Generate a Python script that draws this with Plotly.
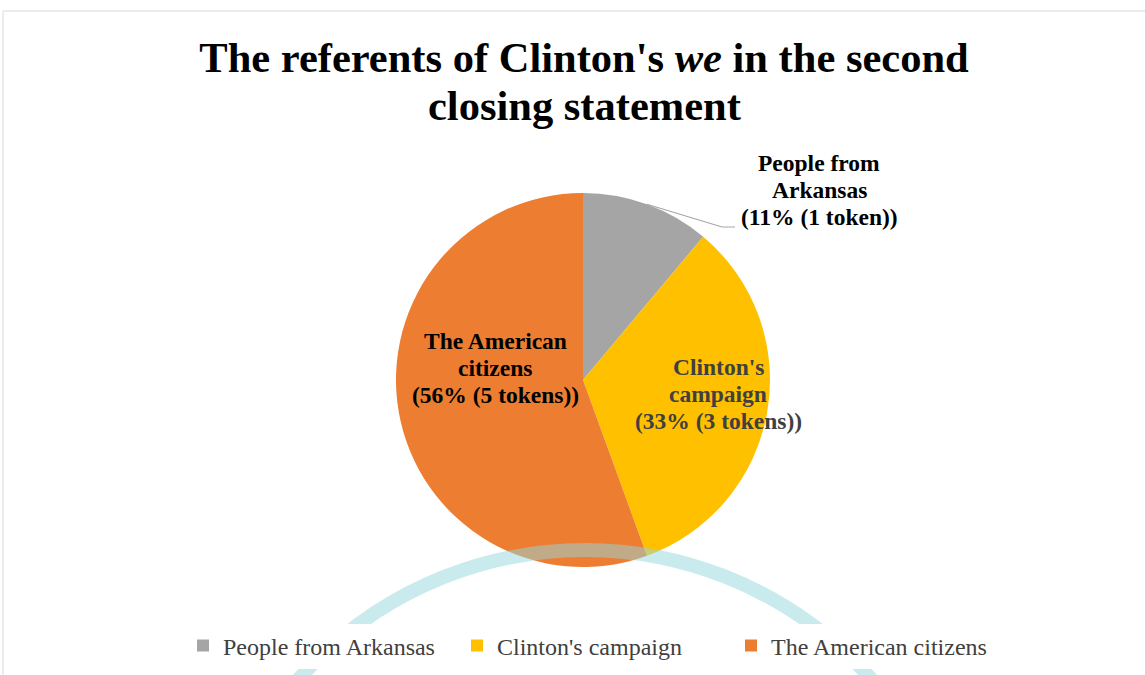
import math
import plotly.graph_objects as go

categories = ["People from Arkansas", "Clinton's campaign", "The American citizens"]
tokens = [1, 3, 5]
colors = ["#A5A5A5", "#FFC000", "#ED7D31"]
label_lines = [["People from", "Arkansas"], ["Clinton's", "campaign"], ["The American", "citizens"]]
label_colors = ["#000000", "#404040", "#000000"]
title_lines = ["The referents of Clinton's <i>we</i> in the second", "closing statement"]

W, H = 1145, 675
cx, cy, R = 583, 380, 187
FONT = "Liberation Serif, Times New Roman, serif"

fig = go.Figure(go.Pie(
    labels=categories, values=tokens, sort=False, direction="clockwise", rotation=0,
    marker=dict(colors=colors, line=dict(width=0)), textinfo="none", hoverinfo="label+value+percent",
    domain=dict(x=[(cx - R) / W, (cx + R) / W], y=[1 - (cy + R) / H, 1 - (cy - R) / H]),
    showlegend=True,
))

total = sum(tokens)
def px(x, y):
    return x / W, 1 - y / H

# centre of first label line, in pixels; lines are 27 px apart
label_pos = [(819, 163), (718, 367), (495, 341)]
LINE = 27
annotations = []
cum = 0
for i, (cat, v) in enumerate(zip(categories, tokens)):
    pct = round(100 * v / total)
    unit = "token" if v == 1 else "tokens"
    lines = label_lines[i] + [f"({pct}% ({v} {unit}))"]
    for k, ln in enumerate(lines):
        x, y = px(label_pos[i][0], label_pos[i][1] + k * LINE)
        annotations.append(dict(x=x, y=y, xref="paper", yref="paper", text=ln, showarrow=False,
                                font=dict(family=FONT, size=23.5, color=label_colors[i], weight="bold"),
                                align="center", xanchor="center", yanchor="middle"))
    if i == 0:
        mid = 2 * math.pi * (cum + v / 2) / total
        ex, ey = cx + R * math.sin(mid), cy - R * math.cos(mid)
    cum += v

annotations.append(dict(x=584 / W, y=1 - 105 / H, xref="paper", yref="paper", text=title_lines[1],
                        showarrow=False, xanchor="center", yanchor="middle",
                        font=dict(family=FONT, size=42.5, color="#000000", weight="bold")))

wm_r, wm_cy = 382, 932
shapes = [
    dict(type="path", xref="paper", yref="paper",
         path="M {} {} L {} {} L {} {}".format(*px(ex, ey), *px(722, 227), *px(735, 227)),
         line=dict(color="#A6A6A6", width=1.2)),
    dict(type="rect", xref="paper", yref="paper", x0=3 / W, y0=-0.02, x1=1.02, y1=1 - 11 / H,
         line=dict(color="#D9D9D9", width=1), layer="below"),
    dict(type="circle", xref="paper", yref="paper", x0=(585 - wm_r) / W, x1=(585 + wm_r) / W,
         y0=1 - (wm_cy + wm_r) / H, y1=1 - (wm_cy - wm_r) / H,
         line=dict(color="rgba(150,215,222,0.5)", width=14), layer="above"),
]

fig.update_layout(
    width=W, height=H,
    margin=dict(l=0, r=0, t=0, b=0),
    paper_bgcolor="white", plot_bgcolor="white",
    title=dict(text=title_lines[0],
               x=584 / W, xanchor="center", y=1 - 57 / H, yanchor="middle",
               font=dict(family=FONT, size=42.5, color="#000000", weight="bold")),
    legend=dict(orientation="h", x=(198 - 15) / W, xanchor="left", y=1 - 646 / H, yanchor="middle",
                font=dict(family=FONT, size=24, color="#404040"), itemwidth=30,
                entrywidth=229, traceorder="normal"),
    annotations=annotations,
    shapes=shapes,
)

fig.write_html("out.html")
